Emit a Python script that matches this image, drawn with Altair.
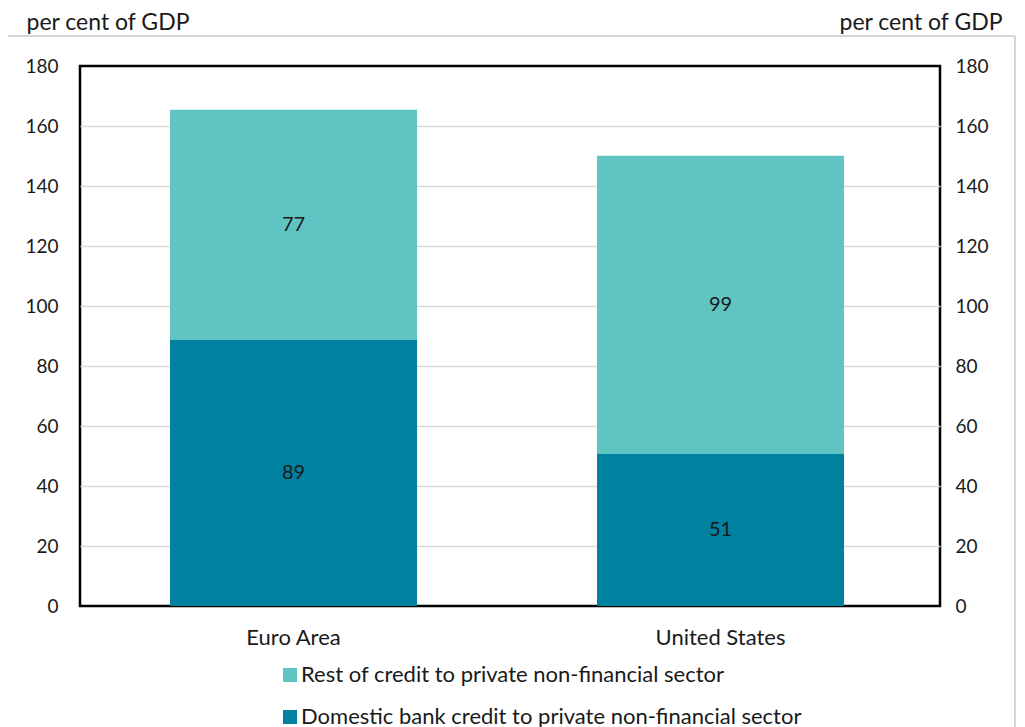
import altair as alt
import pandas as pd

countries = ["Euro Area", "United States"]
series = ["Domestic bank credit to private non-financial sector",
          "Rest of credit to private non-financial sector"]
domestic = [88.7, 50.7]
rest = [76.7, 99.4]
legend_order = [series[1], series[0]]
colors = ["#60C5C2", "#00819F"]
y_ticks = [0, 20, 40, 60, 80, 100, 120, 140, 160, 180]

rows = []
for i, c in enumerate(countries):
    rows.append({"country": c, "series": series[0], "value": domestic[i], "rank": 0})
    rows.append({"country": c, "series": series[1], "value": rest[i], "rank": 1})
df = pd.DataFrame(rows)

FONT = "Lato"
W, H = 860, 540

xenc = alt.X("country:N", sort=countries,
             scale=alt.Scale(paddingInner=0.4215, paddingOuter=0.2178, align=0.484),
             axis=alt.Axis(title=None, labelAngle=0, ticks=False, domain=False,
                           labelPadding=21, labelFontSize=22, labelFont=FONT,
                           labelColor="#1a1a1a"))

yscale = alt.Scale(domain=[0, 180], nice=False)
edge_test = "datum.value === 0 || datum.value === 180"

bars = alt.Chart(df).mark_bar().encode(
    x=xenc,
    y=alt.Y("value:Q", stack="zero", scale=yscale,
            axis=alt.Axis(title="per cent of GDP", values=y_ticks, ticks=False,
                          domain=False, grid=True, gridColor="#D9D9D9",
                          gridOpacity={"condition": {"test": edge_test, "value": 0}, "value": 1},
                          gridWidth=1.5, labelPadding=22, labelFontSize=19,
                          labelFont=FONT, labelColor="#1a1a1a",
                          titleAngle=0, titleX=-54, titleY=-44,
                          titleAlign="left", titleBaseline="middle",
                          titleFontSize=23, titleFont=FONT,
                          titleFontWeight="normal", titleColor="#1a1a1a")),
    color=alt.Color("series:N",
                    scale=alt.Scale(domain=legend_order, range=colors),
                    legend=alt.Legend(title=None, orient="none", legendX=199,
                                      legendY=598, symbolType="square",
                                      symbolSize=196, symbolStrokeWidth=0,
                                      labelFontSize=22, labelFont=FONT,
                                      labelColor="#1a1a1a", rowPadding=20,
                                      labelOffset=0, labelLimit=900,
                                      direction="vertical")),
    order=alt.Order("rank:Q", sort="ascending"),
)

labels = alt.Chart(df).transform_stack(
    stack="value", groupby=["country"], as_=["y0", "y1"],
    sort=[alt.SortField("rank", order="ascending")]
).transform_calculate(
    mid="(datum.y0 + datum.y1) / 2",
    lab="format(round(datum.value), 'd')"
).mark_text(fontSize=20, font=FONT, color="#1a1a1a", baseline="middle").encode(
    x=alt.X("country:N", sort=countries),
    y=alt.Y("mid:Q", scale=yscale),
    text="lab:N",
)

left = alt.layer(bars, labels)

right_axis = alt.Chart(pd.DataFrame({"v": [0, 180]})).mark_point(opacity=0).encode(
    y=alt.Y("v:Q", scale=alt.Scale(domain=[0, 180], nice=False),
            axis=alt.Axis(orient="right", title="per cent of GDP", values=y_ticks,
                          ticks=False, domain=False, grid=False, labelPadding=15,
                          labelFontSize=19, labelFont=FONT, labelColor="#1a1a1a",
                          titleAngle=0, titleX=62, titleY=-44, titleAlign="right",
                          titleBaseline="middle", titleFontSize=23, titleFont=FONT,
                          titleFontWeight="normal", titleColor="#1a1a1a")),
)

top_line = alt.Chart(pd.DataFrame({"a": [0]})).mark_rule(color="#C8C8C8", strokeWidth=1.5).encode(
    x=alt.value(-72), x2=alt.value(935), y=alt.value(-30))
side_line = alt.Chart(pd.DataFrame({"a": [0]})).mark_rule(color="#C8C8C8", strokeWidth=1.5).encode(
    x=alt.value(935), y=alt.value(-30), y2=alt.value(680))

chart = alt.layer(left, right_axis, top_line, side_line).resolve_scale(
    y="independent"
).properties(
    width=W, height=H,
    background="white",
    autosize=alt.AutoSizeParams(type="none"),
    padding={"left": 72, "top": 58, "right": 77, "bottom": 127},
).configure_view(
    stroke="black", strokeWidth=2.5
)

chart.save("out.html", embed_options={"renderer": "svg", "actions": False})
